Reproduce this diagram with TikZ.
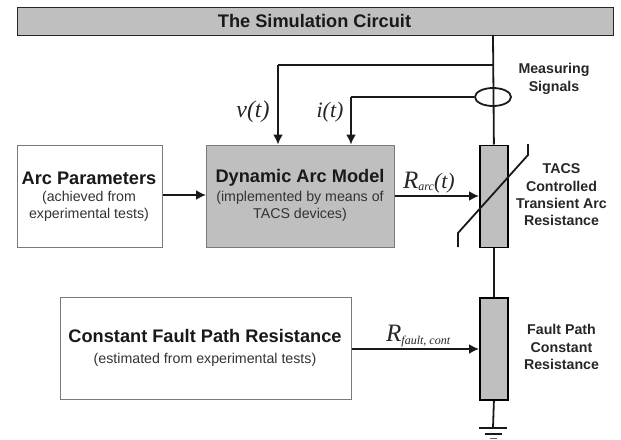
\documentclass[tikz,border=0pt]{standalone}
\usepackage{fontspec}
\setmainfont{Liberation Sans}
\newfontfamily\serifit{Liberation Serif}[ItalicFont=* Italic]
\usetikzlibrary{arrows.meta,shapes.geometric}
\definecolor{boxgray}{HTML}{BFBFBF}
\definecolor{edgegray}{HTML}{7A7A7A}
\tikzset{
  wire/.style={line width=1.8pt,black!90},
  sig/.style={wire,-{Latex[length=10pt,width=10pt]},shorten >=0pt},
  whitebox/.style={draw=edgegray,line width=1pt,fill=white,minimum height=102pt,inner sep=0pt,anchor=north west},
  graybox/.style={whitebox,fill=boxgray},
  res/.style={draw=black,line width=1.8pt,fill=boxgray,minimum width=28pt,minimum height=102pt,inner sep=0pt,anchor=north west},
  lab/.style={align=center,font=\bfseries\fontsize{14.2}{17.3}\selectfont,text=black!85,inner sep=0pt},
  head/.style={align=center,inner sep=0pt,font=\bfseries\fontsize{18.2}{20}\selectfont,text=black!90},
  txt/.style={align=center,inner sep=0pt,text=black!80,font=\fontsize{14.2}{17}\selectfont},
  mathlab/.style={inner sep=0pt,text=black!85,font=\serifit\itshape}
}
\begin{document}
\begin{tikzpicture}[x=1pt,y=-1pt]
\useasboundingbox (0,0) rectangle (621,439);
% top bar
\node[draw=black!85,line width=1.2pt,fill=boxgray,minimum width=596pt,minimum height=28pt,inner sep=0pt,anchor=north west] (bar) at (16.5,7) {};
\node[head] (bartxt) at (314.5,20.5) {The Simulation Circuit};
% resistors
\node[res] (r1) at (479,144.5) {};
\node[res] (r2) at (479,297) {};
% boxes
\node[whitebox,minimum width=145.5pt] (params) at (16.5,144.5) {};
\node[graybox,minimum width=188pt] (model) at (206,144.5) {};
\node[whitebox,minimum width=291pt] (fault) at (60,297) {};
% box text
\node[head] (t1) at (89,178) {Arc Parameters};
\node[txt] (t2) at (89,206.5) {(achieved from\\experimental tests)};
\node[head] (t3) at (300,178) {Dynamic Arc Model};
\node[txt] (t4) at (300,206.5) {(implemented by means of\\TACS devices)};
\node[head] (t5) at (205,336) {Constant Fault Path Resistance};
\node[txt] (t6) at (205,360) {(estimated from experimental tests)};
% main wire
\coordinate (top) at (493,35);
\coordinate (vj) at (493,65);
\coordinate (vc) at (278,65);
\coordinate (ic) at (351,97);
\coordinate (gnd) at (493,428);
\node[draw=black!90,line width=1.8pt,ellipse,minimum width=36pt,minimum height=18pt,inner sep=0pt] (ct) at (493,97) {};
\draw[wire] (top) -- (r1.north);
\draw[wire] (r1.south) -- (r2.north);
\draw[wire] (r2.south) -- (gnd);
% measuring
\draw[wire] (vj) -- (vc);
\draw[sig] (vc) -- (vc |- model.north);
\draw[wire] (ct.west) -- (ic);
\draw[sig] (ic) -- (ic |- model.north);
% arrows
\draw[sig] (params.east |- 0,195) -- (model.west |- 0,195);
\draw[sig] (model.east |- 0,196) -- (r1.west |- 0,196);
\draw[sig] (fault.east |- 0,349) -- (r2.west |- 0,349);
% nonlinear slash
\coordinate (na) at (528,144);
\coordinate (nb) at (528,155);
\coordinate (nc) at (458,233);
\coordinate (nd) at (458,247);
\draw[wire] (na) -- (nb) -- (nc) -- (nd);
% ground
\coordinate (g1a) at (479,428); \coordinate (g1b) at (507,428);
\coordinate (g2a) at (484.5,434); \coordinate (g2b) at (501.5,434);
\coordinate (g3a) at (490,438.3); \coordinate (g3b) at (497,438.3);
\draw[wire] (g1a) -- (g1b);
\draw[wire] (g2a) -- (g2b);
\draw[line width=1pt,black!60] (g3a) -- (g3b);
% math labels
\node[mathlab,font=\serifit\itshape\fontsize{24}{24}\selectfont] (v) at (253,112) {v(t)};
\node[mathlab,font=\serifit\itshape\fontsize{22}{22}\selectfont] (i) at (330,112) {i(t)};
\node[mathlab,anchor=base west] (rarc) at (403,188) {\fontsize{25}{25}\selectfont R\raisebox{-2.5pt}{\fontsize{12}{12}\selectfont arc}\fontsize{22}{22}\selectfont(t)};
\node[mathlab,anchor=base west] (rf) at (386,341) {\fontsize{25}{25}\selectfont R\raisebox{-3pt}{\fontsize{12}{12}\selectfont fault, cont}};
% side labels
\node[lab] (ms) at (554,79) {Measuring\\Signals};
\node[lab] (tr) at (561.5,195) {TACS\\Controlled\\Transient Arc\\Resistance};
\node[lab] (fr) at (561.5,347) {Fault Path\\Constant\\Resistance};
\end{tikzpicture}
\end{document}
